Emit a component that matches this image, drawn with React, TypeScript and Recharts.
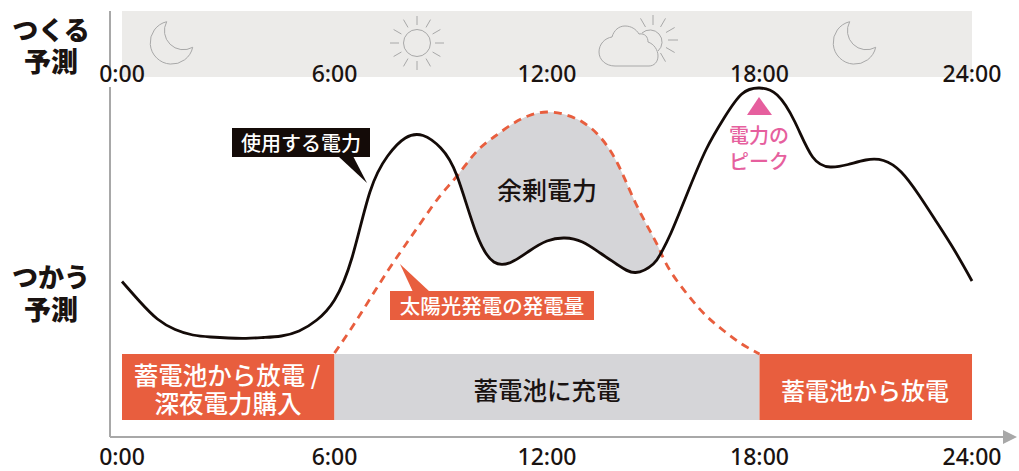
import React from 'react'
import {
  ComposedChart,
  Area,
  Line,
  XAxis,
  YAxis,
  ReferenceArea,
  ReferenceDot,
  ReferenceLine
} from 'recharts'

// hours of the day; the two odd ones are where the curves cross
const hours = [
  0, 0.5, 1, 1.5, 2, 2.5, 3, 3.5, 4, 4.5, 5, 5.5, 6, 6.5, 7, 7.5, 8, 8.5, 9, 9.46,
  10, 10.5, 11, 11.5, 12, 12.5, 13, 13.5, 14, 14.5, 15, 15.22, 15.5, 16, 16.5, 17, 17.5,
  18, 18.5, 19, 19.5, 20, 20.5, 21, 21.5, 22, 22.5, 23, 23.5, 24
]
const demand = [
  155.5, 135.5, 118, 107.5, 102, 100, 99, 98.7, 99.5, 101, 106, 117, 137, 180, 245, 281, 299, 301.5, 289, 261,
  204, 175, 175, 186, 196, 199, 195, 184, 172, 164.5, 173, 184, 204, 247, 288, 319, 343,
  349, 342, 315, 280, 270, 272.5, 277, 276.5, 265, 242, 215, 187, 156
]
const solar = [
  null, null, null, null, null, null, null, null, null, null, null, null,
  84, 110, 138, 166, 192, 217.5, 242, 261,
  285, 300, 312.5, 321.5, 325, 322.5, 315, 300, 273, 234, 200, 184, 165, 141, 121, 106, 93, 83,
  null, null, null, null, null, null, null, null, null, null, null, null
]
const timeTicks = [0, 6, 12, 18, 24]

const chartData = hours.map((hour, i) => ({
  hour,
  demand: demand[i],
  solar: solar[i],
  surplus: hour >= 9.46 && hour <= 15.22 ? [demand[i], solar[i]] : null
}))

const jpFont = '"Noto Sans CJK JP", sans-serif'
const latinFont = '"Noto Sans", sans-serif'
const ink = '#1a1311'
const orange = '#e85e3e'
const gray = '#d5d5d8'
const pink = '#e65f9e'
const iconGray = '#a8a8a8'

const hourLabel = (h: number) => `${h}:00`

const Txt = ({ x, y, size, fill = ink, weight = 500, font = jpFont, children }: any) => (
  <text
    x={x}
    y={y}
    fontSize={size}
    fill={fill}
    fontWeight={weight}
    fontFamily={font}
    textAnchor="middle"
    dominantBaseline="central"
  >
    {children}
  </text>
)

const Moon = ({ dx }: { dx: number }) => (
  <path
    transform={`translate(${dx} 0)`}
    d="M166.7,21.7 A21.5,21.5 0 1 0 192.7,47.3 A19,19 0 0 1 166.7,21.7 Z"
    fill="none"
    stroke={iconGray}
    strokeWidth={1}
  />
)

const Rays = ({ cx, cy, r1, r2, angles }: any) => (
  <>
    {angles.map((a: number) => {
      const t = (a * Math.PI) / 180
      return (
        <line
          key={a}
          x1={cx + r1 * Math.cos(t)}
          y1={cy + r1 * Math.sin(t)}
          x2={cx + r2 * Math.cos(t)}
          y2={cy + r2 * Math.sin(t)}
          stroke={iconGray}
          strokeWidth={1}
        />
      )
    })}
  </>
)

const Annotations = () => (
  <g>
    <Moon dx={0} />
    <Moon dx={683} />
    <circle cx={417} cy={43} r={13.5} fill="none" stroke={iconGray} strokeWidth={1} />
    <Rays cx={417} cy={43} r1={18} r2={27} angles={[0, 30, 60, 90, 120, 150, 180, 210, 240, 270, 300, 330]} />
    <path
      d="M615,66 C606,66 599,60 599,52 C599,44 605,38 612,37 C614,30 619,26 625,26 C631,26 636,29 639,34 C645,33 648,37 648,42 C654,44 658,50 658,56 C658,62 654,66 649,66 Z"
      fill="none"
      stroke={iconGray}
      strokeWidth={1}
    />
    <path d="M642,33 A12,12 0 1 1 658,51" fill="none" stroke={iconGray} strokeWidth={1} />
    <Rays cx={653} cy={40} r1={15} r2={25} angles={[-120, -90, -60, -30, 0, 30, 60]} />

    {timeTicks.map((h) => (
      <Txt key={h} x={122 + (h * 850) / 24} y={73} size={23} font={latinFont}>
        {hourLabel(h)}
      </Txt>
    ))}

    <Txt x={51} y={28} size={26} weight={900}>つくる</Txt>
    <Txt x={51} y={60} size={27} weight={900}>予測</Txt>
    <Txt x={51} y={275} size={26} weight={900}>つかう</Txt>
    <Txt x={51} y={308} size={27} weight={900}>予測</Txt>

    <polygon points="338,156 353,156 367,183" fill="#140b08" />
    <rect x={232} y={128} width={138} height={29} fill="#140b08" />
    <Txt x={301} y={142} size={20} fill="#fff">使用する電力</Txt>

    <polygon points="400,264 413,292 430,292" fill={orange} />
    <rect x={390} y={291} width={204} height={29} fill={orange} />
    <Txt x={492} y={305} size={20.5} fill="#fff">太陽光発電の発電量</Txt>

    <Txt x={547} y={189} size={25}>余剰電力</Txt>

    <polygon points="759,97 772,115 747,115" fill={pink} />
    <Txt x={759} y={134} size={20} fill={pink}>電力の</Txt>
    <Txt x={759} y={160} size={20} fill={pink}>ピーク</Txt>

    <Txt x={227} y={374} size={24.5} fill="#fff">蓄電池から放電 /</Txt>
    <Txt x={228} y={402} size={24.5} fill="#fff">深夜電力購入</Txt>
    <Txt x={547} y={389} size={24.5}>蓄電池に充電</Txt>
    <Txt x={865} y={389} size={24} fill="#fff">蓄電池から放電</Txt>

    <polygon points="1003,430 1017,437 1003,444" fill={iconGray} />
  </g>
)

export default function App() {
  return (
    <div style={{ position: 'absolute', left: 0, top: 0 }}>
      <ComposedChart
        width={1019}
        height={471}
        data={chartData}
        margin={{ top: 11, right: 16, bottom: 0, left: 110 }}
      >
        <XAxis
          dataKey="hour"
          type="number"
          domain={[-0.339, 24.875]}
          ticks={timeTicks}
          tickFormatter={hourLabel}
          height={34}
          tickLine={false}
          tickMargin={6}
          axisLine={{ stroke: iconGray, strokeWidth: 2 }}
          tick={{ fontSize: 23, fontWeight: 500, fill: ink, fontFamily: latinFont }}
          interval={0}
        />
        <YAxis hide domain={[0, 426]} width={0} />

        <ReferenceLine segment={[{ x: -0.339, y: 0 }, { x: -0.339, y: 350 }]} stroke={iconGray} strokeWidth={2} />
        <ReferenceLine segment={[{ x: -0.339, y: 365 }, { x: -0.339, y: 426 }]} stroke={iconGray} strokeWidth={2} />

        <ReferenceArea x1={0} x2={24} y1={360} y2={426} fill="#ecebe9" fillOpacity={1} stroke="none" />
        <ReferenceArea x1={0} x2={6} y1={17} y2={83} fill={orange} fillOpacity={1} stroke="none" />
        <ReferenceArea x1={6} x2={18} y1={17} y2={83} fill={gray} fillOpacity={1} stroke="none" />
        <ReferenceArea x1={18} x2={24} y1={17} y2={83} fill={orange} fillOpacity={1} stroke="none" />

        <Area
          dataKey="surplus"
          type="natural"
          fill={gray}
          fillOpacity={1}
          stroke="none"
          dot={false}
          activeDot={false}
          isAnimationActive={false}
        />
        <Line
          dataKey="solar"
          type="natural"
          stroke={orange}
          strokeWidth={2.8}
          strokeDasharray="8 6"
          dot={false}
          activeDot={false}
          isAnimationActive={false}
        />
        <Line
          dataKey="demand"
          type="natural"
          stroke="#140b08"
          strokeWidth={2.8}
          dot={false}
          activeDot={false}
          isAnimationActive={false}
        />

        <ReferenceDot x={0} y={0} r={0} shape={() => <Annotations />} />
      </ComposedChart>
    </div>
  )
}
